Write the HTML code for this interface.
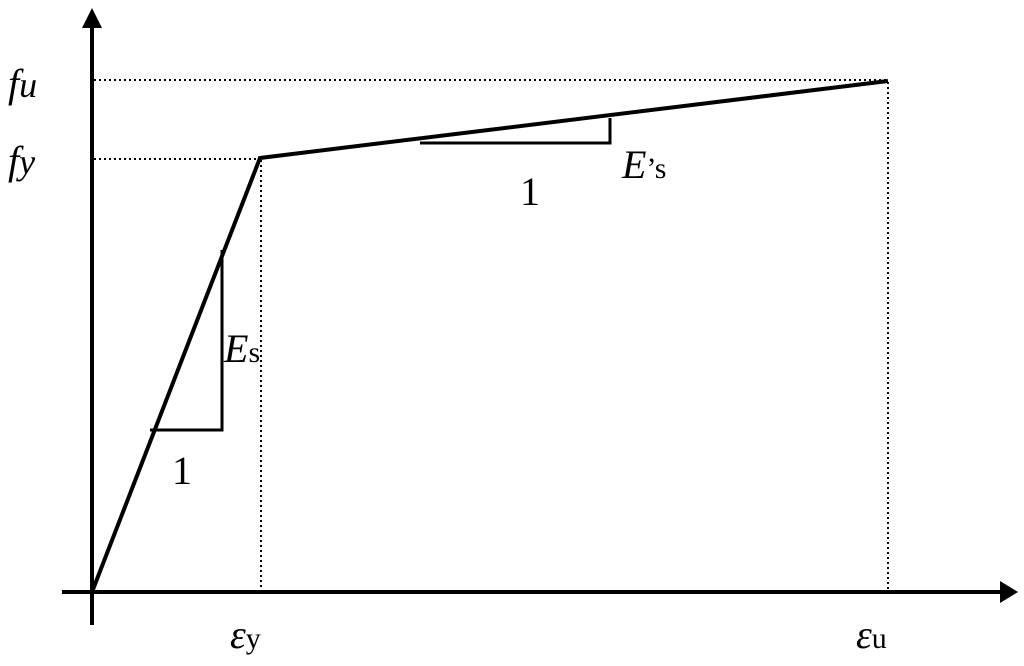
<!DOCTYPE html>
<html><head><style>body{margin:0;background:#fff}svg{display:block}text{font-family:"Liberation Serif",serif}</style></head><body>
<svg width="1024" height="666" viewBox="0 0 1024 666" xmlns="http://www.w3.org/2000/svg">
<line x1="92" y1="24" x2="92" y2="625" stroke="#000" stroke-width="4"/>
<polygon points="92,8 82,28 102,28" fill="#000"/>
<line x1="62" y1="592" x2="1000" y2="592" stroke="#000" stroke-width="4"/>
<polygon points="1018,592 1000,581 1000,603" fill="#000"/>
<g stroke="#000" stroke-width="2" stroke-dasharray="2,3" fill="none">
<line x1="94" y1="80" x2="888" y2="80"/>
<line x1="94" y1="159" x2="258" y2="159"/>
<line x1="261" y1="160" x2="261" y2="590"/>
<line x1="888" y1="82" x2="888" y2="590"/>
</g>
<polyline points="92,592 260,158 888,81" fill="none" stroke="#000" stroke-width="4" stroke-linejoin="miter"/>
<polyline points="150,430 222,430 222,250" fill="none" stroke="#000" stroke-width="3"/>
<polyline points="420,143 610,143 610,118" fill="none" stroke="#000" stroke-width="3"/>
<g font-size="40" font-style="italic">
<text x="8" y="97">f<tspan font-size="36">u</tspan></text>
<text x="8" y="174">f<tspan font-size="36">y</tspan></text>
<text x="224" y="362">E<tspan font-style="normal" font-size="30">s</tspan></text>
<text x="622" y="178">E<tspan font-style="normal" font-size="30">’s</tspan></text>
<text x="230" y="648">ε<tspan font-style="normal" font-size="30">y</tspan></text>
<text x="856" y="648">ε<tspan font-style="normal" font-size="30">u</tspan></text>
</g>
<text x="172" y="484" font-size="40">1</text>
<text x="520" y="205" font-size="40">1</text>
</svg>
</body></html>
